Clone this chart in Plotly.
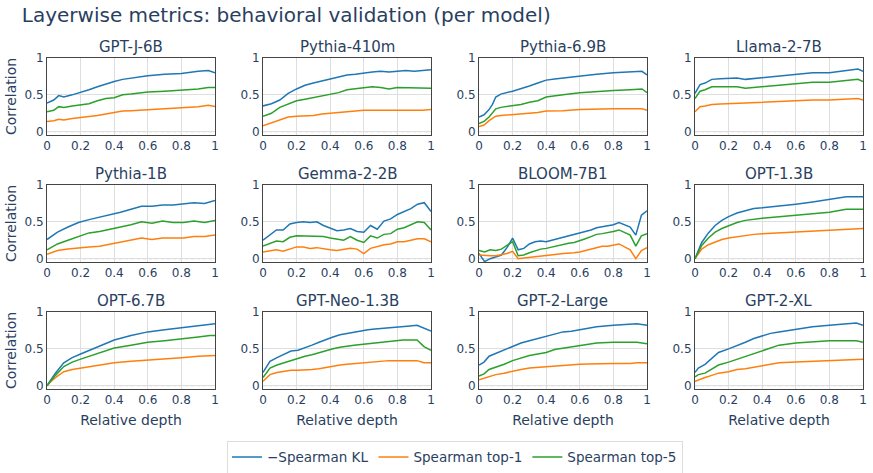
import plotly.graph_objects as go
from plotly.subplots import make_subplots

models = ["GPT-J-6B", "Pythia-410m", "Pythia-6.9B", "Llama-2-7B",
          "Pythia-1B", "Gemma-2-2B", "BLOOM-7B1", "OPT-1.3B",
          "OPT-6.7B", "GPT-Neo-1.3B", "GPT-2-Large", "GPT-2-XL"]
series_names = ["\u2212Spearman KL", "Spearman top-1", "Spearman top-5"]
colors = ["#1f77b4", "#ff7f0e", "#2ca02c"]
x_ticks = [0, 0.2, 0.4, 0.6, 0.8, 1]
y_ticks = [0, 0.5, 1]
y_tick_text = ["0", "0.5", "1"]

gptj_x = [0, 0.04, 0.07, 0.1, 0.15, 0.2, 0.25, 0.3, 0.35, 0.4, 0.45, 0.5, 0.6, 0.7, 0.8, 0.9, 0.96, 1.0]
gptj_kl = [0.39, 0.43, 0.49, 0.47, 0.50, 0.53, 0.57, 0.61, 0.65, 0.68, 0.71, 0.73, 0.76, 0.78, 0.79, 0.82, 0.83, 0.80]
gptj_top1 = [0.14, 0.15, 0.17, 0.16, 0.18, 0.19, 0.20, 0.22, 0.24, 0.26, 0.28, 0.285, 0.30, 0.31, 0.32, 0.34, 0.36, 0.34]
gptj_top5 = [0.27, 0.29, 0.34, 0.33, 0.35, 0.37, 0.38, 0.42, 0.45, 0.46, 0.50, 0.51, 0.54, 0.55, 0.56, 0.58, 0.60, 0.60]

p410_x = [0, 0.05, 0.1, 0.15, 0.2, 0.25, 0.3, 0.35, 0.4, 0.45, 0.5, 0.55, 0.6, 0.65, 0.7, 0.75, 0.8, 0.85, 0.9, 0.95, 1.0]
p410_kl = [0.35, 0.38, 0.43, 0.52, 0.58, 0.63, 0.66, 0.69, 0.72, 0.74, 0.77, 0.78, 0.80, 0.81, 0.82, 0.81, 0.82, 0.83, 0.82, 0.83, 0.84]
p410_top1 = [0.08, 0.12, 0.17, 0.20, 0.21, 0.215, 0.22, 0.24, 0.25, 0.26, 0.28, 0.285, 0.29, 0.29, 0.29, 0.28, 0.29, 0.29, 0.285, 0.29, 0.30]
p410_top5 = [0.21, 0.25, 0.33, 0.38, 0.42, 0.44, 0.46, 0.49, 0.51, 0.53, 0.57, 0.58, 0.60, 0.61, 0.60, 0.58, 0.60, 0.60, 0.60, 0.60, 0.59]

p69_x = [0, 0.03, 0.06, 0.08, 0.1, 0.13, 0.2, 0.25, 0.3, 0.35, 0.4, 0.45, 0.5, 0.6, 0.7, 0.8, 0.9, 0.97, 1.0]
p69_kl = [0.20, 0.23, 0.30, 0.37, 0.47, 0.51, 0.55, 0.58, 0.62, 0.66, 0.70, 0.715, 0.73, 0.76, 0.78, 0.80, 0.81, 0.82, 0.77]
p69_top1 = [0.07, 0.09, 0.15, 0.18, 0.21, 0.22, 0.23, 0.24, 0.25, 0.26, 0.28, 0.28, 0.285, 0.30, 0.31, 0.31, 0.31, 0.31, 0.29]
p69_top5 = [0.11, 0.14, 0.20, 0.26, 0.31, 0.33, 0.35, 0.37, 0.40, 0.42, 0.47, 0.49, 0.50, 0.53, 0.55, 0.56, 0.57, 0.58, 0.53]

llama_x = [0, 0.03, 0.06, 0.1, 0.15, 0.2, 0.25, 0.3, 0.35, 0.4, 0.45, 0.5, 0.6, 0.7, 0.8, 0.9, 0.97, 1.0]
llama_kl = [0.52, 0.64, 0.66, 0.71, 0.72, 0.73, 0.73, 0.71, 0.72, 0.73, 0.75, 0.76, 0.78, 0.80, 0.80, 0.83, 0.85, 0.82]
llama_top1 = [0.27, 0.34, 0.35, 0.37, 0.375, 0.38, 0.38, 0.38, 0.385, 0.39, 0.40, 0.41, 0.42, 0.43, 0.43, 0.44, 0.45, 0.43]
llama_top5 = [0.45, 0.55, 0.57, 0.61, 0.61, 0.61, 0.61, 0.59, 0.60, 0.61, 0.63, 0.64, 0.66, 0.67, 0.67, 0.69, 0.71, 0.68]

p1b_x = [0, 0.0625, 0.125, 0.1875, 0.25, 0.3125, 0.375, 0.4375, 0.5, 0.5625, 0.625, 0.6875, 0.75, 0.8125, 0.875, 0.9375, 1.0]
p1b_kl = [0.26, 0.36, 0.43, 0.49, 0.53, 0.56, 0.60, 0.63, 0.67, 0.71, 0.71, 0.73, 0.73, 0.74, 0.76, 0.75, 0.79]
p1b_top1 = [0.06, 0.11, 0.13, 0.15, 0.16, 0.17, 0.20, 0.22, 0.25, 0.28, 0.26, 0.28, 0.28, 0.28, 0.30, 0.30, 0.32]
p1b_top5 = [0.12, 0.20, 0.25, 0.30, 0.35, 0.37, 0.40, 0.42, 0.46, 0.50, 0.48, 0.51, 0.49, 0.49, 0.51, 0.49, 0.52]

gemma_x = [0, 0.04, 0.08, 0.12, 0.16, 0.2, 0.24, 0.28, 0.32, 0.36, 0.4, 0.44, 0.48, 0.52, 0.56, 0.6, 0.64, 0.68, 0.72, 0.76, 0.8, 0.84, 0.88, 0.92, 0.96, 1.0]
gemma_kl = [0.25, 0.32, 0.39, 0.39, 0.47, 0.49, 0.50, 0.49, 0.50, 0.45, 0.41, 0.38, 0.39, 0.41, 0.37, 0.36, 0.45, 0.40, 0.51, 0.54, 0.60, 0.64, 0.68, 0.74, 0.76, 0.64]
gemma_top1 = [0.09, 0.11, 0.12, 0.10, 0.13, 0.16, 0.16, 0.14, 0.15, 0.13, 0.12, 0.11, 0.12, 0.14, 0.13, 0.07, 0.14, 0.17, 0.19, 0.20, 0.23, 0.23, 0.25, 0.27, 0.27, 0.23]
gemma_top5 = [0.17, 0.21, 0.24, 0.23, 0.29, 0.31, 0.31, 0.30, 0.31, 0.30, 0.28, 0.27, 0.25, 0.30, 0.25, 0.22, 0.31, 0.28, 0.33, 0.34, 0.40, 0.42, 0.46, 0.50, 0.49, 0.39]

bloom_x = [i / 30 for i in range(31)]
bloom_kl = [0.07, -0.04, 0.00, 0.02, 0.05, 0.15, 0.28, 0.12, 0.14, 0.20, 0.23, 0.24, 0.23, 0.25, 0.27, 0.29, 0.30, 0.32, 0.34, 0.37, 0.39, 0.42, 0.43, 0.44, 0.46, 0.49, 0.46, 0.43, 0.32, 0.59, 0.65]
bloom_top1 = [0.05, 0.04, 0.04, 0.04, 0.05, 0.07, 0.10, 0.00, 0.01, 0.02, 0.02, 0.03, 0.04, 0.05, 0.06, 0.07, 0.07, 0.08, 0.09, 0.11, 0.14, 0.16, 0.17, 0.17, 0.18, 0.20, 0.16, 0.12, 0.00, 0.11, 0.15]
bloom_top5 = [0.11, 0.09, 0.12, 0.11, 0.13, 0.18, 0.23, 0.04, 0.05, 0.08, 0.11, 0.13, 0.14, 0.16, 0.18, 0.19, 0.21, 0.22, 0.24, 0.27, 0.30, 0.33, 0.34, 0.35, 0.37, 0.39, 0.35, 0.32, 0.17, 0.31, 0.34]

opt13_x = [0, 0.02, 0.04, 0.08, 0.12, 0.16, 0.2, 0.25, 0.3, 0.35, 0.4, 0.5, 0.6, 0.7, 0.8, 0.9, 1.0]
opt13_kl = [0.0, 0.12, 0.22, 0.35, 0.45, 0.52, 0.57, 0.62, 0.65, 0.68, 0.69, 0.72, 0.74, 0.77, 0.80, 0.84, 0.84]
opt13_top1 = [0.0, 0.07, 0.13, 0.19, 0.23, 0.26, 0.28, 0.30, 0.32, 0.33, 0.34, 0.35, 0.36, 0.37, 0.38, 0.40, 0.41]
opt13_top5 = [0.0, 0.10, 0.18, 0.28, 0.36, 0.41, 0.45, 0.49, 0.52, 0.54, 0.55, 0.57, 0.59, 0.61, 0.63, 0.67, 0.67]

opt67_x = [0, 0.02, 0.05, 0.1, 0.15, 0.2, 0.25, 0.3, 0.33, 0.4, 0.5, 0.6, 0.7, 0.8, 0.9, 0.97, 1.0]
opt67_kl = [0.0, 0.07, 0.17, 0.31, 0.38, 0.43, 0.48, 0.52, 0.56, 0.62, 0.68, 0.73, 0.76, 0.79, 0.82, 0.84, 0.84]
opt67_top1 = [0.0, 0.05, 0.11, 0.19, 0.22, 0.24, 0.26, 0.27, 0.29, 0.31, 0.33, 0.35, 0.37, 0.38, 0.40, 0.41, 0.41]
opt67_top5 = [0.0, 0.06, 0.14, 0.26, 0.32, 0.36, 0.40, 0.43, 0.46, 0.51, 0.55, 0.59, 0.61, 0.63, 0.66, 0.68, 0.68]

neo_x = [i / 24 for i in range(25)]
neo_kl = [0.18, 0.33, 0.38, 0.42, 0.47, 0.48, 0.51, 0.55, 0.59, 0.63, 0.66, 0.69, 0.71, 0.72, 0.74, 0.76, 0.77, 0.78, 0.79, 0.80, 0.81, 0.81, 0.82, 0.78, 0.74]
neo_top1 = [0.06, 0.15, 0.18, 0.20, 0.21, 0.21, 0.21, 0.22, 0.23, 0.25, 0.26, 0.28, 0.29, 0.30, 0.31, 0.32, 0.33, 0.33, 0.34, 0.34, 0.34, 0.34, 0.34, 0.31, 0.31]
neo_top5 = [0.11, 0.24, 0.28, 0.31, 0.35, 0.37, 0.40, 0.42, 0.45, 0.48, 0.50, 0.52, 0.54, 0.55, 0.56, 0.57, 0.59, 0.60, 0.61, 0.62, 0.62, 0.62, 0.62, 0.53, 0.48]

g2l_x = [0, 0.03, 0.06, 0.1, 0.15, 0.2, 0.25, 0.3, 0.35, 0.4, 0.45, 0.5, 0.55, 0.6, 0.65, 0.7, 0.8, 0.9, 0.94, 1.0]
g2l_kl = [0.28, 0.32, 0.40, 0.44, 0.49, 0.54, 0.58, 0.61, 0.64, 0.67, 0.71, 0.73, 0.74, 0.76, 0.78, 0.80, 0.82, 0.83, 0.84, 0.82]
g2l_top1 = [0.08, 0.10, 0.13, 0.15, 0.17, 0.20, 0.22, 0.24, 0.25, 0.26, 0.27, 0.28, 0.285, 0.29, 0.295, 0.30, 0.30, 0.30, 0.31, 0.31]
g2l_top5 = [0.13, 0.16, 0.22, 0.25, 0.29, 0.34, 0.38, 0.41, 0.43, 0.45, 0.49, 0.51, 0.53, 0.54, 0.56, 0.58, 0.59, 0.59, 0.59, 0.57]

g2xl_x = [0, 0.02, 0.06, 0.1, 0.14, 0.2, 0.25, 0.3, 0.35, 0.4, 0.45, 0.5, 0.6, 0.7, 0.8, 0.9, 0.96, 1.0]
g2xl_kl = [0.18, 0.24, 0.29, 0.37, 0.45, 0.50, 0.54, 0.59, 0.64, 0.68, 0.71, 0.73, 0.77, 0.80, 0.82, 0.84, 0.85, 0.82]
g2xl_top1 = [0.06, 0.08, 0.11, 0.14, 0.17, 0.19, 0.22, 0.23, 0.25, 0.27, 0.29, 0.31, 0.32, 0.33, 0.34, 0.35, 0.36, 0.36]
g2xl_top5 = [0.12, 0.15, 0.17, 0.23, 0.28, 0.32, 0.36, 0.40, 0.44, 0.48, 0.52, 0.55, 0.58, 0.60, 0.61, 0.61, 0.61, 0.59]

panels = [
    (gptj_x, gptj_kl, gptj_top1, gptj_top5),
    (p410_x, p410_kl, p410_top1, p410_top5),
    (p69_x, p69_kl, p69_top1, p69_top5),
    (llama_x, llama_kl, llama_top1, llama_top5),
    (p1b_x, p1b_kl, p1b_top1, p1b_top5),
    (gemma_x, gemma_kl, gemma_top1, gemma_top5),
    (bloom_x, bloom_kl, bloom_top1, bloom_top5),
    (opt13_x, opt13_kl, opt13_top1, opt13_top5),
    (opt67_x, opt67_kl, opt67_top1, opt67_top5),
    (neo_x, neo_kl, neo_top1, neo_top5),
    (g2l_x, g2l_kl, g2l_top1, g2l_top5),
    (g2xl_x, g2xl_kl, g2xl_top1, g2xl_top5),
]

FONT = "DejaVu Sans"
TXT = "#2a3f5f"

fig = make_subplots(rows=3, cols=4, subplot_titles=models,
                    horizontal_spacing=0.0588, vertical_spacing=0.151)

for i, (xs, kl, t1, t5) in enumerate(panels):
    r, c = i // 4 + 1, i % 4 + 1
    for j, ys in enumerate([kl, t1, t5]):
        fig.add_trace(go.Scatter(x=xs, y=ys, mode="lines", name=series_names[j],
                                 line=dict(color=colors[j], width=1.5),
                                 legendgroup=series_names[j], showlegend=(i == 0)),
                      row=r, col=c)
    fig.add_shape(type="line", xref="x domain" if i == 0 else f"x{i+1} domain",
                  yref="y" if i == 0 else f"y{i+1}",
                  x0=0, x1=1, y0=0, y1=0,
                  line=dict(color="#bbbbbb", width=1, dash="dot"), layer="below")

fig.update_xaxes(range=[0, 1], tickvals=x_ticks, ticktext=["0", "0.2", "0.4", "0.6", "0.8", "1"],
                 showline=True, linecolor="#444", linewidth=1, mirror=True,
                 gridcolor="#dedede", zeroline=False, tickfont=dict(size=12, color=TXT))
fig.update_yaxes(range=[-0.045, 1.0], tickvals=y_ticks, ticktext=y_tick_text,
                 showline=True, linecolor="#444", linewidth=1, mirror=True,
                 gridcolor="#dedede", zeroline=False, tickfont=dict(size=12, color=TXT))
for c in range(1, 5):
    fig.update_xaxes(title_text="Relative depth", title_font=dict(size=14, color=TXT),
                     title_standoff=8, row=3, col=c)
for r in range(1, 4):
    fig.update_yaxes(title_text="Correlation", title_font=dict(size=14, color=TXT),
                     title_standoff=4, row=r, col=1)

for a in fig.layout.annotations:
    a.font = dict(size=15, color=TXT, family=FONT)

fig.update_layout(
    template="plotly_white",
    width=873, height=473,
    margin=dict(l=47, r=10, t=58, b=84, autoexpand=False),
    font=dict(family=FONT, color=TXT),
    paper_bgcolor="white", plot_bgcolor="white",
    title=dict(text="Layerwise metrics: behavioral validation (per model)",
               x=0.025, xanchor="left", y=0.968, yanchor="middle",
               font=dict(size=20, color=TXT, family=FONT)),
    legend=dict(orientation="h", x=0.5, xanchor="center",
                yref="container", y=0.068, yanchor="top",
                bordercolor="#dddddd", borderwidth=1, font=dict(size=13.5, color=TXT),
                itemwidth=30, tracegroupgap=0),
)

fig.write_html("out.html")
